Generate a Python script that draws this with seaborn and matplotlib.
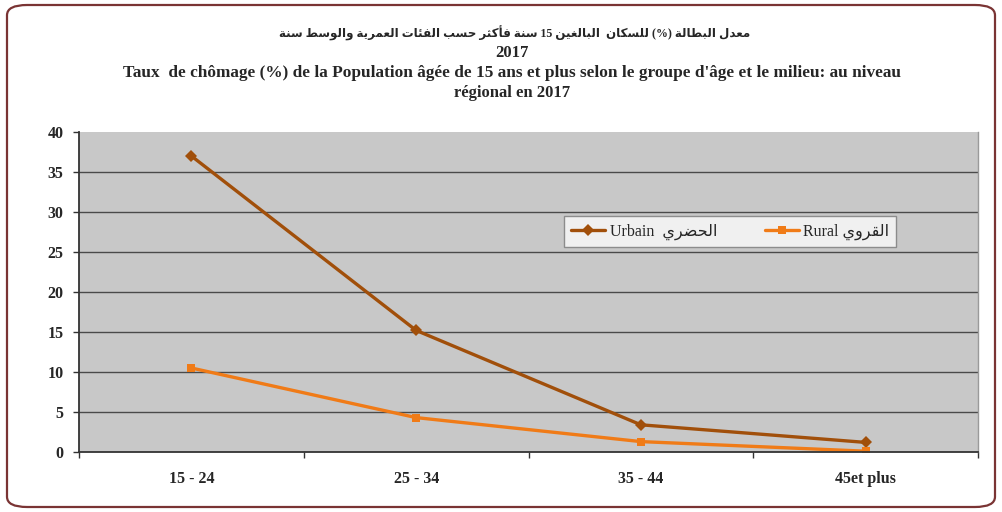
import matplotlib
matplotlib.use("Agg")
import matplotlib.pyplot as plt
from matplotlib.patches import FancyBboxPatch
import pandas as pd
import seaborn as sns

# ---- data ----
age_groups = ["15 - 24", "25 - 34", "35 - 44", "45et plus"]
urbain = [37.0, 15.2, 3.4, 1.2]
rural = [10.5, 4.3, 1.3, 0.1]
y_ticks = [0, 5, 10, 15, 20, 25, 30, 35, 40]

title_ar = "معدل البطالة (%) للسكان  البالغين 15 سنة فأكثر حسب الفئات العمرية والوسط سنة"
title_year = "2017"
title_fr_1 = "Taux  de chômage (%) de la Population âgée de 15 ans et plus selon le groupe d'âge et le milieu: au niveau"
title_fr_2 = "régional en 2017"
label_urbain_fr, label_urbain_ar = "Urbain", "الحضري"
label_rural_fr, label_rural_ar = "Rural", "القروي"

# ---- minimal Arabic shaping (presentation forms) + right-to-left ordering ----
# (isolated, final, initial, medial)
AR_FORMS = {
    "\u0623": (0xFE83, 0xFE84, None, None),
    "\u0626": (0xFE89, 0xFE8A, 0xFE8B, 0xFE8C),
    "\u0627": (0xFE8D, 0xFE8E, None, None),
    "\u0628": (0xFE8F, 0xFE90, 0xFE91, 0xFE92),
    "\u0629": (0xFE93, 0xFE94, None, None),
    "\u062A": (0xFE95, 0xFE96, 0xFE97, 0xFE98),
    "\u062B": (0xFE99, 0xFE9A, 0xFE9B, 0xFE9C),
    "\u062D": (0xFEA1, 0xFEA2, 0xFEA3, 0xFEA4),
    "\u062F": (0xFEA9, 0xFEAA, None, None),
    "\u0631": (0xFEAD, 0xFEAE, None, None),
    "\u0633": (0xFEB1, 0xFEB2, 0xFEB3, 0xFEB4),
    "\u0636": (0xFEBD, 0xFEBE, 0xFEBF, 0xFEC0),
    "\u0637": (0xFEC1, 0xFEC2, 0xFEC3, 0xFEC4),
    "\u0639": (0xFEC9, 0xFECA, 0xFECB, 0xFECC),
    "\u063A": (0xFECD, 0xFECE, 0xFECF, 0xFED0),
    "\u0641": (0xFED1, 0xFED2, 0xFED3, 0xFED4),
    "\u0642": (0xFED5, 0xFED6, 0xFED7, 0xFED8),
    "\u0643": (0xFED9, 0xFEDA, 0xFEDB, 0xFEDC),
    "\u0644": (0xFEDD, 0xFEDE, 0xFEDF, 0xFEE0),
    "\u0645": (0xFEE1, 0xFEE2, 0xFEE3, 0xFEE4),
    "\u0646": (0xFEE5, 0xFEE6, 0xFEE7, 0xFEE8),
    "\u0648": (0xFEED, 0xFEEE, None, None),
    "\u064A": (0xFEF1, 0xFEF2, 0xFEF3, 0xFEF4),
}
MIRROR = {"(": ")", ")": "("}


def shape(text):
    out = []
    n = len(text)
    for i, ch in enumerate(text):
        if ch not in AR_FORMS:
            out.append(ch)
            continue
        iso, fin, ini, med = AR_FORMS[ch]
        prev = text[i - 1] if i > 0 else ""
        nxt = text[i + 1] if i + 1 < n else ""
        join_prev = prev in AR_FORMS and AR_FORMS[prev][2] is not None
        join_next = ini is not None and nxt in AR_FORMS
        if join_prev and join_next:
            code = med
        elif join_prev:
            code = fin
        elif join_next:
            code = ini
        else:
            code = iso
        out.append(chr(code))
    return "".join(out)


def rtl(text):
    shaped = shape(text)
    runs, cur, cur_ltr = [], "", None
    for ch in shaped:
        is_ltr = ch.isascii() and ch.isalnum()
        if cur and is_ltr != cur_ltr:
            runs.append((cur, cur_ltr))
            cur = ""
        cur += ch
        cur_ltr = is_ltr
    if cur:
        runs.append((cur, cur_ltr))
    visual = []
    for run, is_ltr in reversed(runs):
        if is_ltr:
            visual.append(run)
        else:
            visual.append("".join(MIRROR.get(c, c) for c in reversed(run)))
    return "".join(visual)


# ---- long-form table for seaborn ----
lbl_u = f"{label_urbain_fr}  {rtl(label_urbain_ar)}"
lbl_r = f"{label_rural_fr} {rtl(label_rural_ar)}"
df = pd.DataFrame({
    "age": age_groups * 2,
    "taux": urbain + rural,
    "milieu": [lbl_u] * len(age_groups) + [lbl_r] * len(age_groups),
})

sns.set_theme(style="white")
plt.rcParams["font.family"] = ["Liberation Serif", "DejaVu Sans"]

W, H = 1002, 512
fig = plt.figure(figsize=(W / 100, H / 100), dpi=100)
fig.patch.set_facecolor("white")

x0, x1, y0, y1 = 79, 978, 132, 452
ax = fig.add_axes([x0 / W, 1 - y1 / H, (x1 - x0) / W, (y1 - y0) / H])
ax.set_facecolor("#C8C8C8")

col_u, col_r = "#A14F0A", "#F07B17"
sns.lineplot(
    data=df, x="age", y="taux", hue="milieu", style="milieu",
    palette={lbl_u: col_u, lbl_r: col_r},
    markers={lbl_u: "D", lbl_r: "s"}, dashes=False,
    linewidth=2.4, markersize=6, markeredgewidth=0, ax=ax, sort=False,
)

ax.set_xlim(-0.5, len(age_groups) - 0.5)
ax.set_ylim(0, 40)
ax.set_yticks(y_ticks)
ax.set_yticklabels([str(v) for v in y_ticks], fontweight="bold", fontsize=11.5)
ax.set_xticks(range(len(age_groups)))
ax.set_xticklabels(age_groups, fontweight="bold", fontsize=11.5)
ax.set_xticks([i - 0.5 for i in range(len(age_groups) + 1)], minor=True)
ax.tick_params(axis="x", which="major", length=0, pad=14)
ax.tick_params(axis="x", which="minor", length=4, width=1, color="#333333", direction="out", bottom=True)
ax.tick_params(axis="y", which="major", length=4, width=1, color="#333333", direction="out", left=True, pad=7)
ax.set_xlabel("")
ax.set_ylabel("")

for v in y_ticks[1:-1]:
    ax.axhline(v, color="#4A4A4A", lw=1.0, zorder=1)

ax.spines["top"].set_visible(False)
ax.spines["right"].set_color("#9A9A9A")
ax.spines["right"].set_linewidth(1.0)
for side in ("left", "bottom"):
    ax.spines[side].set_color("#333333")
    ax.spines[side].set_linewidth(1.3)

handles, labels = ax.get_legend_handles_labels()
leg = ax.legend(
    handles, labels, loc="center", bbox_to_anchor=(0.7245, 0.689), ncol=2,
    frameon=True, fancybox=False, fontsize=11.5, handlelength=2.1,
    columnspacing=3.0, handletextpad=0.3, borderpad=0.45,
)
leg.get_frame().set_facecolor("#F0F0F0")
leg.get_frame().set_edgecolor("#8C8C8C")
leg.get_frame().set_linewidth(1.0)
leg.get_frame().set_alpha(1)

# ---- titles ----
cx = 512 / W
fig.text(515 / W, 1 - 33 / H, rtl(title_ar), ha="center", va="center", fontsize=8.6, fontweight="bold")
fig.text(cx, 1 - 53 / H, title_year, ha="center", va="center", fontsize=12, fontweight="bold")
fig.text(cx, 1 - 73 / H, title_fr_1, ha="center", va="center", fontsize=12.4, fontweight="bold")
fig.text(cx, 1 - 93 / H, title_fr_2, ha="center", va="center", fontsize=12, fontweight="bold")

# rounded outer frame
frame = FancyBboxPatch(
    (7 / W, 1 - 507 / H), 988 / W, 502 / H,
    boxstyle="round,pad=0,rounding_size=0.02", transform=fig.transFigure,
    facecolor="none", edgecolor="#7A3434", linewidth=1.6, zorder=10,
)
fig.patches.append(frame)

fig.savefig("out.png", dpi=100)
